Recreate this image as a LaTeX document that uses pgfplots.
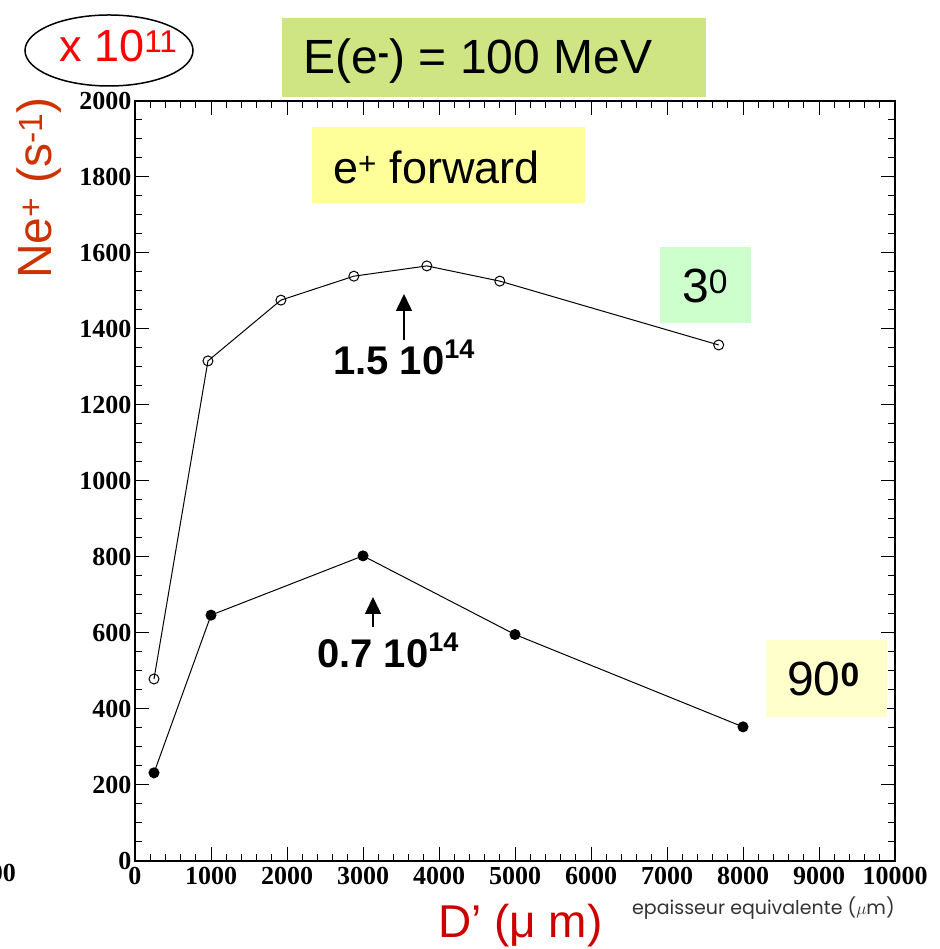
\documentclass[border=0pt]{standalone}
\usepackage{fontspec}
\setmainfont{Liberation Serif}
\newfontfamily\arial{Liberation Sans}
\newfontfamily\poppins{Poppins}
\usepackage{pgfplots}
\pgfplotsset{compat=1.18}
\usetikzlibrary{arrows.meta}

\definecolor{energybox}{RGB}{207,229,131}
\definecolor{fwdbox}{RGB}{255,255,153}
\definecolor{threebox}{RGB}{204,255,204}
\definecolor{ninetybox}{RGB}{255,255,204}
\definecolor{ylabcol}{RGB}{204,51,0}
\definecolor{xlabcol}{RGB}{204,0,0}

\begin{document}
\begin{tikzpicture}
\begin{axis}[
  scale only axis, width=760pt, height=760pt,
  xmin=0, xmax=10000, ymin=0, ymax=2000,
  xtick distance=1000, ytick distance=200,
  minor x tick num=4, minor y tick num=3,
  scaled ticks=false,
  tick align=inside,
  major tick length=14pt, minor tick length=7pt,
  axis line style={line width=2pt},
  every tick/.style={black, line width=1pt},
  ticklabel style={font=\fontsize{26}{26}\selectfont\bfseries},
  xticklabel style={yshift=-3pt},
  /pgf/number format/assume math mode=true,
  /pgf/number format/1000 sep={},
  clip=false,
]
% 3 degree emission
\addplot[black, line width=1pt, mark=o, mark size=5pt,
  mark options={line width=1pt}] coordinates {
  (250,479) (960,1316) (1920,1476) (2880,1539) (3840,1566) (4800,1526) (7680,1358)
};
% 90 degree emission
\addplot[black, line width=1pt, mark=*, mark size=5pt] coordinates {
  (250,232) (1000,647) (3000,803) (5000,596) (8000,353)
};
\end{axis}

\begin{scope}[x=1pt, y=-1pt, shift={(-135pt,861pt)}]
  % scale factor
  \draw[line width=1.5pt] (109,50.5) ellipse [x radius=84pt, y radius=35.5pt];
  \node[anchor=base west, inner sep=0pt, text=red, font=\arial\fontsize{45}{45}\selectfont]
    at (59,62) {x 10\textsuperscript{11}};
  % beam energy
  \fill[energybox] (282,18) rectangle (706,97);
  \node[anchor=base west, inner sep=0pt, font=\arial\fontsize{48}{48}\selectfont]
    at (303,74) {E(e\textsuperscript{\textbf{-}}) = 100 MeV};
  % direction
  \fill[fwdbox] (312,127) rectangle (585,203);
  \node[anchor=base west, inner sep=0pt, font=\arial\fontsize{45}{45}\selectfont]
    at (333,184) {e\textsuperscript{+} forward};
  % angle tags
  \fill[threebox] (660,247) rectangle (751,323);
  \node[anchor=base west, inner sep=0pt, font=\arial\fontsize{48}{48}\selectfont]
    at (682,303) {3\textsuperscript{0}};
  \fill[ninetybox] (766,640) rectangle (887,717);
  \node[anchor=base west, inner sep=0pt, font=\arial\fontsize{48}{48}\selectfont]
    at (787,696) {90\textsuperscript{\textbf{0}}};
  % maxima
  \draw[line width=1.5pt, -{Triangle[length=17pt,width=16pt]}] (404,340) -- (404,294);
  \node[anchor=base west, inner sep=0pt, font=\arial\bfseries\fontsize{40}{40}\selectfont]
    at (333,375) {1.5 10\raisebox{0.42em}{\fontsize{27}{27}\selectfont 14}};
  \draw[line width=1.5pt, -{Triangle[length=17pt,width=16pt]}] (373,627) -- (373,597);
  \node[anchor=base west, inner sep=0pt, font=\arial\bfseries\fontsize{40}{40}\selectfont]
    at (317,668) {0.7 10\raisebox{0.42em}{\fontsize{27}{27}\selectfont 14}};
  % axis titles
  \node[anchor=base west, inner sep=0pt, rotate=90, text=ylabcol,
    font=\arial\fontsize{48}{48}\selectfont]
    at (52,279) {Ne\textsuperscript{+} (s\textsuperscript{-1})};
  \node[anchor=base west, inner sep=0pt, text=xlabcol,
    font=\arial\fontsize{46}{46}\selectfont]
    at (438,937) {D’ (μ m)};
  \node[anchor=base west, inner sep=0pt, text=black!80,
    font=\poppins\fontsize{19}{19}\selectfont]
    at (632,914) {epaisseur equivalente ($\mu$m)};
  \begin{scope}
    \clip (0,0) rectangle (939,949);
    \node[anchor=base east, inner sep=0pt, font=\fontsize{26}{26}\selectfont\bfseries]
      at (16,882) {1000};
  \end{scope}
  \pgfresetboundingbox
  \path[use as bounding box] (0,0) rectangle (939,949);
\end{scope}
\end{tikzpicture}
\end{document}
